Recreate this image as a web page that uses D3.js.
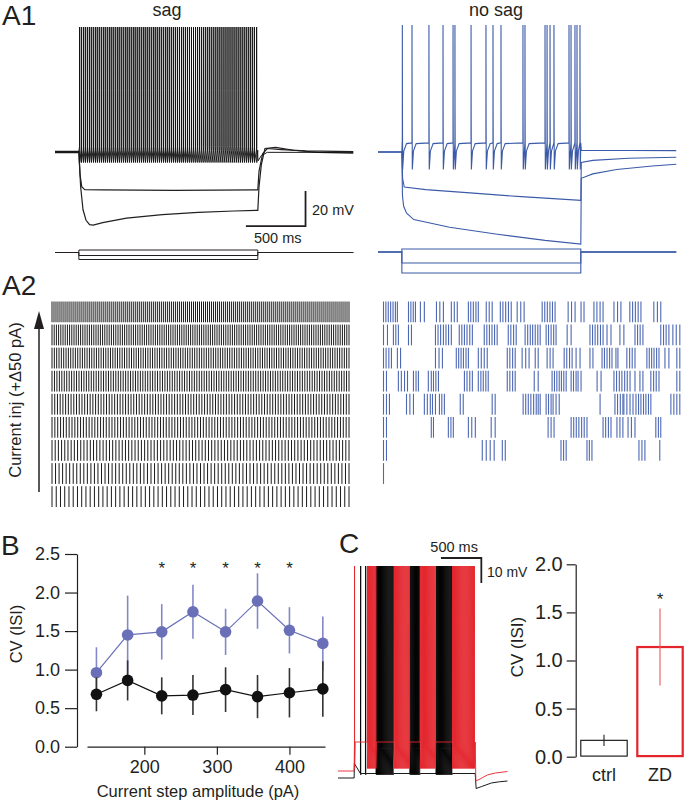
<!DOCTYPE html>
<html><head><meta charset="utf-8">
<script src="https://cdn.jsdelivr.net/npm/d3@7/dist/d3.min.js"></script>
<style>
body{margin:0;background:#fff}
svg{display:block}
text{font-family:"Liberation Sans",Arial,Helvetica,sans-serif;fill:#231f20}
</style>
</head><body>
<svg id="fig" width="685" height="802"></svg>
<script>
// ================= DATA =================
// A1 "sag" (black) : spike times (ms) of the depolarised trace
const sagSpikeTimes = [206,221,238,254,271,288,304,321,338,354,371,388,405,421,438,455,471,488,505,522,538,555,572,589,605,622,639,656,672,689,706,723,740,756,773,790,807,824,840,857,874,891,908,925,941,958,975,992,1009,1026,1043,1060,1076,1093,1110,1127,1144,1161,1178,1195,1212,1229,1246,1263,1280,1297,1314,1331,1348,1365,1382,1399,1416,1433,1450,1467,1484,1501,1518,1535,1552,1569,1586,1603,1620,1637,1654,1671,1690];
// hyperpolarised traces [time ms, mV]
const sagHyper1 = [[0,-64.6],[200,-64.6],[210,-78],[225,-85],[250,-86.5],[400,-86.6],[1000,-86.9],[1700,-86.6],[1710,-76],[1740,-66],[1780,-63],[1900,-63.6],[2100,-64.4],[2500,-64.8]];
const sagHyper2 = [[0,-65.4],[200,-65.4],[215,-85],[235,-98],[260,-104],[290,-106.5],[320,-106.8],[400,-105.3],[600,-102.8],[900,-100.8],[1200,-99.5],[1500,-98.7],[1700,-98.3],[1710,-85],[1730,-72],[1760,-63],[1850,-62.4],[2000,-64],[2200,-65.2],[2500,-65.6]];
const sagStim = [50, -60, -140];           // relative step amplitudes (pA)

// A1 "no sag" (blue)
const noSagSpikeTimes = [204,285,427,545,629,645,780,905,964,1031,1215,1232,1400,1417,1442,1475,1601,1618,1651,1668,1693];
const noSagHyper1 = [[0,-65],[200,-65],[206,-80],[220,-85],[400,-86.5],[800,-88.5],[1200,-90.5],[1700,-92.6],[1704,-71],[1800,-69.8],[2100,-68.6],[2500,-68]];
const noSagHyper2 = [[0,-65],[200,-65],[205,-90],[215,-96],[240,-100],[300,-103.6],[600,-108],[1000,-112],[1400,-115.5],[1700,-117.6],[1704,-80],[1800,-77.5],[2000,-75],[2300,-73],[2500,-72]];
const noSagStim = [60, -220, -420];

// A2 raster: black rows (top = largest current) spike counts during the step
const sagRasterCounts = [150,136,128,122,110,105,94,85,71];
// blue rows: spike times (ms within 1500 ms step)
const noSagRaster = [
 [0,12,24,36,48,60,70,126,138,150,161,186,206,267,284,302,342,357,372,428,440,453,466,478,518,533,548,589,602,616,630,644,674,692,709,800,813,826,839,852,865,931,948,966,996,1011,1061,1076,1092,1107,1162,1180,1197,1242,1256,1270,1284,1298,1363,1381,1398],
 [0,20,50,62,75,126,141,262,275,288,302,315,328,342,382,395,408,421,435,448,508,521,534,547,560,573,629,642,656,669,714,727,740,752,765,778,790,820,832,845,858,870,926,946,1041,1054,1067,1080,1094,1107,1127,1147,1192,1212,1268,1281,1294,1308,1398,1412,1425,1439,1459,1476,1494],
 [0,13,27,40,70,86,262,280,297,367,379,391,403,416,428,478,493,508,523,624,637,651,664,699,717,734,765,780,825,840,855,911,924,938,951,971,991,1041,1056,1102,1114,1127,1140,1152,1172,1182,1227,1241,1254,1268,1328,1340,1352,1364,1377,1389,1419,1439,1479,1494],
 [0,15,75,90,106,121,151,164,176,226,241,252,264,277,408,421,435,448,478,491,503,516,528,624,637,651,664,760,780,850,862,874,886,897,909,921,946,958,971,981,996,1077,1097,1162,1175,1189,1202,1216,1229,1243,1268,1293,1308,1348,1362,1375,1389,1479,1494],
 [0,15,30,116,133,151,206,221,236,247,262,282,294,307,387,402,548,563,704,717,730,743,757,770,780,790,820,832,845,855,870,886,1092,1167,1180,1194,1207,1212,1227,1243,1258,1273,1286,1298,1311,1323,1336,1348,1449,1464,1479,1494],
 [0,15,241,252,327,340,352,428,445,463,543,563,830,845,860,946,959,972,985,999,1012,1026,1107,1120,1134,1147,1177,1192,1207,1233,1250,1268,1373,1386,1398],
 [0,15,498,518,538,558,599,614,895,908,921,1026,1038,1051,1288,1303,1318,1393],
 [0]
];

// B : CV(ISI) vs current step
const stepAmps   = [134,177,224,267,312,356,400,446];
const cvSag      = [0.68,0.86,0.66,0.67,0.74,0.65,0.70,0.75];
const cvSagErr   = [0.22,0.26,0.24,0.26,0.29,0.28,0.32,0.36];
const cvNoSag    = [0.96,1.45,1.49,1.75,1.49,1.89,1.51,1.34];
const cvNoSagErr = [0.33,0.51,0.36,0.35,0.30,0.36,0.30,0.35];
const sigIndex   = [2,3,4,5,6];
const bYTicks = [0,0.5,1,1.5,2,2.5];
const bXTicks = [200,300,400];

// C : traces (spike times ms) and bar chart
const zdSpikes   = [205,365,378,391,404,417,430,443,456,468,700,713,726,739,752,765,778,791,804,817,830,843,856,869,882,1020,1033,1046,1059,1072,1085,1098,1111,1124,1137,1150,1163,1176,1189,1202,1418,1431,1444,1457,1470,1483,1496,1509,1522,1535,1548,1561,1574,1587,1600,1613,1626,1639,1652,1665,1678,1690];
const ctrlSpikes = [281,343,475,488,501,514,527,540,553,566,579,592,605,618,631,644,657,670,683,895,908,921,934,947,960,973,986,999,1012,1218,1231,1244,1257,1270,1283,1296,1309,1322,1335,1348,1361,1374,1387,1400,1410];
const zdPost   = [[1700,-53.4],[1708,-69],[1760,-68.2],[1850,-66.6],[1950,-65.8],[2100,-65.2]];
const ctrlPost = [[1700,-66],[1712,-72],[1780,-71.2],[1900,-69.8],[2000,-69.3],[2100,-69]];
const cConds  = ["ctrl","ZD"];
const cvC     = [0.17,1.14];
const cvCErr  = [0.058,0.40];
const cYTicks = [0,0.5,1,1.5,2];

// ================= DRAWING =================
const svg = d3.select("#fig");
const INK="#231f20", BLUE="#3b5aa8", RED="#e3242b", PURPLE="#6a70b8", LPURPLE="#8389c8", RBLUE="#4d68b4";

function txt(g,x,y,s,size,anchor){
  return g.append("text").attr("x",x).attr("y",y).attr("font-size",size).attr("text-anchor",anchor||"start").text(s);
}

// ---------- A1 ----------
const a1xL = d3.scaleLinear().domain([0,2500]).range([55,55+2500*0.1193]);
const a1xR = d3.scaleLinear().domain([0,2500]).range([378,378+2500*0.1193]);
const a1y  = d3.scaleLinear().domain([-65,6.4]).range([152,27]);
const stimYL = d3.scaleLinear().domain([0,50]).range([252.5,250]);
const stimYR = d3.scaleLinear().domain([0,60]).range([252,249]);

function sagTrace(spk){
  const p=[[0,-65],[200,-65],[203,-63]];
  spk.forEach((t,i)=>{
    p.push([t-0.3,-62],[t,6.4],[t+0.6,-30],[t+1.5,-71]);
    const n=spk[i+1];
    if(n) p.push([n-2,-64]); else p.push([1699,-64]);
  });
  p.push([1700,-68],[1703,-70],[1730,-67],[1780,-65.2],[2500,-65.2]);
  return p;
}
function noSagTrace(spk){
  const p=[[0,-65],[200,-65],[202,-61]];
  spk.forEach((t,i)=>{
    p.push([t-0.3,-58],[t,7.6],[t+0.8,-40],[t+2.5,-75]);
    const n = (i+1<spk.length)? spk[i+1] : 1700;
    p.push([Math.min(t+12,n-1.2),-64.5]);
    if(n-t>35) p.push([t+35,-60.2]);
    p.push([n-0.6,-59.8]);
  });
  p.push([1700,-60],[1704,-64],[2500,-64.2]);
  return p;
}
function stimPath(a){ return [[0,0],[200,0],[200,a],[1700,a],[1700,0],[2500,0]]; }

const gA1 = svg.append("g");
const lineL = d3.line().x(d=>a1xL(d[0])).y(d=>a1y(d[1]));
const lineR = d3.line().x(d=>a1xR(d[0])).y(d=>a1y(d[1]));
[sagHyper1,sagHyper2].forEach(tr=>gA1.append("path").attr("d",lineL(tr)).attr("fill","none").attr("stroke",INK).attr("stroke-width",1.2));
gA1.append("path").attr("d",lineL(sagTrace(sagSpikeTimes))).attr("fill","none").attr("stroke","#111").attr("stroke-width",0.95);
const stimLineL = d3.line().x(d=>a1xL(d[0])).y(d=>stimYL(d[1]));
sagStim.forEach(a=>gA1.append("path").attr("d",stimLineL(stimPath(a))).attr("fill","none").attr("stroke",INK).attr("stroke-width",1));

[noSagHyper1,noSagHyper2].forEach(tr=>gA1.append("path").attr("d",lineR(tr)).attr("fill","none").attr("stroke",BLUE).attr("stroke-width",1.1));
gA1.append("path").attr("d",lineR(noSagTrace(noSagSpikeTimes))).attr("fill","none").attr("stroke",BLUE).attr("stroke-width",1.1);
const stimLineR = d3.line().x(d=>a1xR(d[0])).y(d=>stimYR(d[1]));
noSagStim.forEach(a=>gA1.append("path").attr("d",stimLineR(stimPath(a))).attr("fill","none").attr("stroke",BLUE).attr("stroke-width",1.1));

// scale bar A1
const sbT0=1600, sbMs=500, sbV0=-107.3, sbMV=20;
gA1.append("path").attr("d",`M${a1xL(sbT0)},${a1y(sbV0)}H${a1xL(sbT0+sbMs)}V${a1y(sbV0+sbMV)}`).attr("fill","none").attr("stroke",INK).attr("stroke-width",1.8);
txt(gA1,312,215,"20 mV",14.5);
txt(gA1,a1xL(sbT0+sbMs/2)+2,243,"500 ms",14.5,"middle");
txt(gA1,2,25,"A1",28);
txt(gA1,167,16,"sag",18,"middle");
txt(gA1,496,16,"no sag",18,"middle");

// ---------- A2 ----------
const gA2 = svg.append("g");
txt(gA2,2,295,"A2",28);
const rxL = d3.scaleLinear().domain([0,1500]).range([52,350]);
const rxR = d3.scaleLinear().domain([0,1500]).range([383.5,681]);
const rowY = d3.scaleBand().domain(d3.range(9)).range([301.5,507]).paddingInner(0.1);
sagRasterCounts.forEach((n,r)=>{
  const times=d3.range(n).map(i=>i*1495/(n-1));
  gA2.append("g").selectAll("line").data(times).join("line")
    .attr("x1",d=>rxL(d)).attr("x2",d=>rxL(d))
    .attr("y1",rowY(r)).attr("y2",rowY(r)+rowY.bandwidth())
    .attr("stroke","#1a1a1a").attr("stroke-width",1);
});
noSagRaster.forEach((row,r)=>{
  gA2.append("g").selectAll("line").data(row).join("line")
    .attr("x1",d=>rxR(d)).attr("x2",d=>rxR(d))
    .attr("y1",rowY(r)).attr("y2",rowY(r)+rowY.bandwidth())
    .attr("stroke",RBLUE).attr("stroke-width",1.1);
});
// arrow + label
gA2.append("line").attr("x1",39).attr("x2",39).attr("y1",492).attr("y2",326).attr("stroke",INK).attr("stroke-width",1.5);
gA2.append("path").attr("d","M39,311L34,329L44,329Z").attr("fill",INK);
gA2.append("text").attr("transform","translate(21,400) rotate(-90)").attr("text-anchor","middle").attr("font-size",16.5).text("Current inj (+Δ50 pA)");

// ---------- B ----------
const gB = svg.append("g");
const xB = d3.scaleLinear().domain([121,449]).range([87,325]);
const yB = d3.scaleLinear().domain([0,2.5]).range([746.7,554]);
const yAxB = gB.append("g").attr("transform","translate(77,0)")
  .call(d3.axisLeft(yB).tickValues(bYTicks).tickFormat(d3.format(".1f")).tickSize(12).tickSizeOuter(0).tickPadding(5));
const xAxB = gB.append("g").attr("transform","translate(0,746.7)")
  .call(d3.axisBottom(xB).tickValues(bXTicks).tickSize(8).tickSizeOuter(0).tickPadding(6));
[yAxB,xAxB].forEach(a=>{
  a.selectAll("path,line").attr("stroke",INK).attr("stroke-width",1.2);
  a.selectAll("text").attr("font-size",18).attr("fill",INK).attr("font-family",'"Liberation Sans",Arial,sans-serif');
});
txt(gB,198,797,"Current step amplitude (pA)",16.5,"middle");
gB.append("text").attr("transform","translate(22,634) rotate(-90)").attr("text-anchor","middle").attr("font-size",16.5).text("CV (ISI)");
txt(gB,1,555,"B",28);

function series(vals,errs,col,ecol){
  const g=gB.append("g");
  g.selectAll("line").data(vals).join("line")
    .attr("x1",(d,i)=>xB(stepAmps[i])).attr("x2",(d,i)=>xB(stepAmps[i]))
    .attr("y1",(d,i)=>yB(d-errs[i])).attr("y2",(d,i)=>yB(d+errs[i]))
    .attr("stroke",ecol).attr("stroke-width",1.6);
  g.append("path").attr("d",d3.line().x((d,i)=>xB(stepAmps[i])).y(d=>yB(d))(vals))
    .attr("fill","none").attr("stroke",col).attr("stroke-width",1.2);
  g.selectAll("circle").data(vals).join("circle")
    .attr("cx",(d,i)=>xB(stepAmps[i])).attr("cy",d=>yB(d)).attr("r",5.8).attr("fill",col);
}
series(cvNoSag,cvNoSagErr,PURPLE,LPURPLE);
series(cvSag,cvSagErr,"#111","#333");
gB.selectAll("text.star").data(sigIndex).join("text").attr("class","star")
  .attr("x",i=>xB(stepAmps[i])).attr("y",yB(2.36)+9).attr("text-anchor","middle").attr("font-size",17).text("*");

// ---------- C traces ----------
const gC = svg.append("g");
txt(gC,339,553,"C",28);
const cx = d3.scaleLinear().domain([0,2100]).range([338,338+2100*0.0807]);
const cy = d3.scaleLinear().domain([-65,17]).range([771,566]);
function cTrace(spk,pre,onset,quiet,thr,trough,post){
  const p=[[0,pre],[200,pre],[203,onset]];
  spk.forEach((t,i)=>{
    const pv = i>0? spk[i-1] : 200;
    const nx = i+1<spk.length? spk[i+1] : 1700;
    if(t-pv>30) p.push([t-3,quiet]); else p.push([t-0.8,thr]);
    p.push([t,17],[t+0.8,trough]);
    if(nx-t>30) p.push([t+8,quiet]);
  });
  return p.concat(post);
}
const cLine = d3.line().x(d=>cx(d[0])).y(d=>cy(d[1]));
gC.append("path").attr("d",cLine(cTrace(ctrlSpikes,-67.8,-62,-66,-56,-66.5,ctrlPost))).attr("fill","none").attr("stroke","#000").attr("stroke-width",0.9);
gC.append("path").attr("d",cLine(cTrace(zdSpikes,-65,-56,-53.4,-55,-64,zdPost))).attr("fill","none").attr("stroke",RED).attr("stroke-width",0.9);
// scale bar C
const cSbT0=1276, cSbMs=500, cSbV0=20.2, cSbMV=10;
gC.append("path").attr("d",`M${cx(cSbT0)},${cy(cSbV0)}H${cx(cSbT0+cSbMs)}V${cy(cSbV0-cSbMV)}`).attr("fill","none").attr("stroke",INK).attr("stroke-width",1.8);
txt(gC,cx(cSbT0+cSbMs/2)-7,552,"500 ms",14.5,"middle");
txt(gC,487,577,"10 mV",14);

// ---------- C bars ----------
const xC = d3.scaleBand().domain(cConds).range([578.5,685.5]).paddingInner(0.15).paddingOuter(0.03);
const yC = d3.scaleLinear().domain([0,2]).range([756.7,564.3]);
const yAxC = gC.append("g").attr("transform","translate(575.7,0)")
  .call(d3.axisLeft(yC).tickValues(cYTicks).tickFormat(d3.format(".1f")).tickSize(9).tickSizeOuter(0).tickPadding(4));
yAxC.selectAll("path,line").attr("stroke",INK).attr("stroke-width",1.2);
yAxC.selectAll("text").attr("font-size",20).attr("fill",INK).attr("font-family",'"Liberation Sans",Arial,sans-serif');
gC.append("text").attr("transform","translate(523,647) rotate(-90)").attr("text-anchor","middle").attr("font-size",17).text("CV (ISI)");
const barCol = [INK,RED], barW=[1.2,2.2];
gC.selectAll("rect.bar").data(cvC).join("rect").attr("class","bar")
  .attr("x",(d,i)=>xC(cConds[i])+barW[i]/2).attr("width",(d,i)=>xC.bandwidth()-barW[i])
  .attr("y",d=>yC(d)).attr("height",d=>yC(0)-yC(d)-barW[0]/2)
  .attr("fill","none").attr("stroke",(d,i)=>barCol[i]).attr("stroke-width",(d,i)=>barW[i]);
gC.selectAll("line.err").data(cvC).join("line").attr("class","err")
  .attr("x1",(d,i)=>xC(cConds[i])+xC.bandwidth()/2).attr("x2",(d,i)=>xC(cConds[i])+xC.bandwidth()/2)
  .attr("y1",(d,i)=>yC(d-cvCErr[i])).attr("y2",(d,i)=>yC(d+cvCErr[i]))
  .attr("stroke",(d,i)=>i? "#e65a5f":INK).attr("stroke-width",1.1);
cConds.forEach(c=>txt(gC,xC(c)+xC.bandwidth()/2,781,c,18,"middle"));
txt(gC,xC("ZD")+xC.bandwidth()/2,yC(1.67)+9,"*",17,"middle");
</script>
</body></html>
